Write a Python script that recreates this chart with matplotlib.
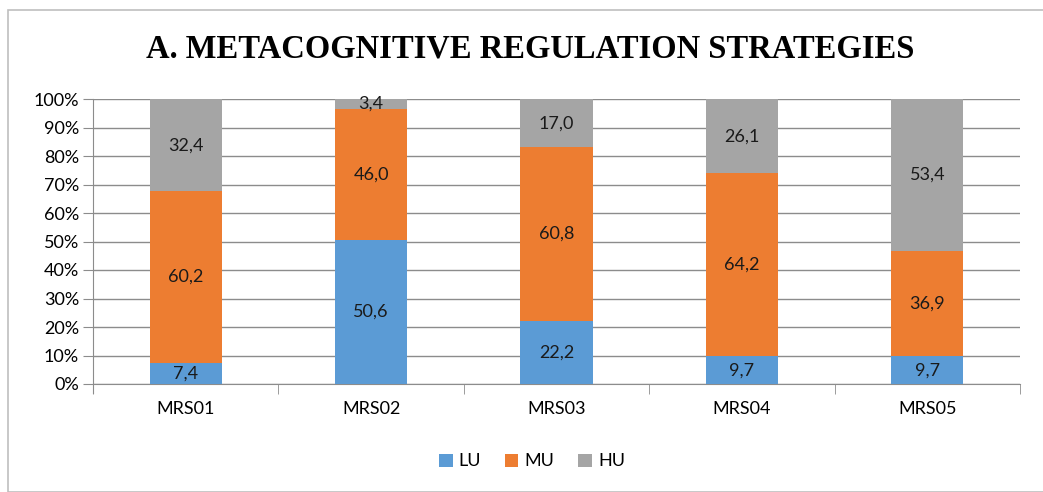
import matplotlib.pyplot as plt
import numpy as np
from matplotlib.patches import Rectangle

categories = ['MRS01', 'MRS02', 'MRS03', 'MRS04', 'MRS05']
lu = [7.4, 50.6, 22.2, 9.7, 9.7]
mu = [60.2, 46.0, 60.8, 64.2, 36.9]
hu = [32.4, 3.4, 17.0, 26.1, 53.4]
series = [('LU', lu, '#5b9bd5'), ('MU', mu, '#ed7d31'), ('HU', hu, '#a5a5a5')]

plt.rcParams['font.family'] = ['Lato', 'DejaVu Sans']
fs = 13

fig = plt.figure(figsize=(10.43, 4.92), dpi=100)
fig.patches.append(Rectangle((8 / 1043, 0.0), 1.2, 1 - 10 / 492, transform=fig.transFigure,
                             fill=False, edgecolor='#bfbfbf', linewidth=1.2))
ax = fig.add_axes([93 / 1043, 1 - 384 / 492, 927 / 1043, 285 / 492])

x = np.arange(len(categories))
bottom = np.zeros(len(categories))
handles = []
for name, vals, color in series:
    vals = np.array(vals)
    b = ax.bar(x, vals, 0.39, bottom=bottom, color=color, label=name, zorder=3)
    handles.append(b)
    for xi, v, bt in zip(x, vals, bottom):
        ax.text(xi, bt + v / 2, f'{v:.1f}'.replace('.', ','), ha='center', va='center',
                fontsize=fs, color='#1a1a1a', zorder=4)
    bottom += vals

ax.set_xlim(-0.5, len(categories) - 0.5)
ax.set_ylim(0, 100)
ax.set_yticks(np.arange(0, 101, 10))
ax.set_yticklabels([f'{t}%' for t in range(0, 101, 10)], fontsize=fs)
ax.yaxis.grid(True, color='#8c8c8c', linewidth=1, zorder=0)
ax.set_xticks(x)
ax.set_xticklabels(categories, fontsize=fs)
ax.tick_params(axis='x', length=0, pad=12)
ax.tick_params(axis='y', length=7, color='#8c8c8c', pad=3)
ax.set_xticks(np.arange(-0.5, len(categories)), minor=True)
ax.tick_params(axis='x', which='minor', length=7, color='#8c8c8c')
for s in ['top', 'right']:
    ax.spines[s].set_visible(False)
for s in ['left', 'bottom']:
    ax.spines[s].set_color('#8c8c8c')
ax.spines['left'].set_bounds(-3, 100)

fig.text(0.508, 0.9, 'A. METACOGNITIVE REGULATION STRATEGIES', ha='center', va='center',
         fontsize=23.5, fontweight='bold', family='Liberation Serif')
fig.legend(handles=handles, loc='center', bbox_to_anchor=(0.51, 0.062), ncol=3, frameon=False,
           fontsize=fs, handlelength=0.75, handleheight=0.75, handletextpad=0.35, columnspacing=1.3)

fig.savefig('out.png', dpi=100)
